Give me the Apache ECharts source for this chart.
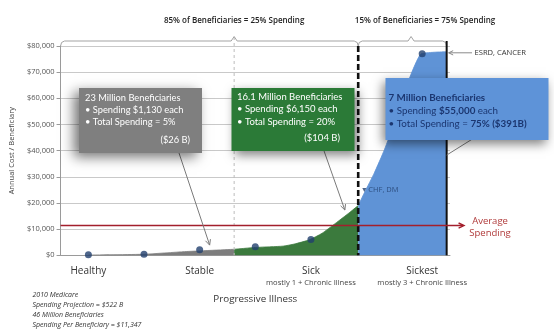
<!DOCTYPE html>
<html>
<head>
<meta charset="utf-8">
<script src="https://cdn.jsdelivr.net/npm/echarts@6/dist/echarts.min.js"></script>
<style>
  html, body { margin: 0; padding: 0; background: #fff; }
  #c { width: 554px; height: 329px; }
</style>
</head>
<body>
<div id="c"></div>
<script>
// ---- data ---------------------------------------------------------------
// Illness stages along the horizontal axis (one slot each)
const stages = ['Healthy', '', 'Stable', '', 'Sick', '', 'Sickest'];
const stageNotes = ['', '', '', '', 'mostly 1 + Chronic Illness', '', 'mostly 3 + Chronic Illness'];
// Annual cost per beneficiary marked at the middle of each stage (null = no marker)
const stageCost = [200, 400, 2100, 3300, 6000, null, 77000];

// Spending curve per group: [position on the stage scale, annual cost]
const curveStable  = [[0.5, 100], [1.5, 400], [2.23, 1400], [3.12, 2300]];
const curveSick    = [[3.12, 2300], [3.5, 3000], [4.0, 3500], [4.2, 4300], [4.47, 5900],
                      [4.7, 8400], [4.94, 12200], [5.18, 16100], [5.35, 19000]];
const curveSickest = [[5.35, 19000], [5.47, 24300], [5.64, 31500], [5.82, 40300], [6.0, 50600],
                      [6.17, 62000], [6.33, 70800], [6.48, 77000], [6.94, 77800]];

// Group boundaries on the stage scale
const splitStable = 3.12;   // 85% group: stable | sick
const splitTop15 = 5.35;    // 85% | 15%
const splitEnd = 6.94;      // end of curve
const braceCusps = [3.12, 6.3];

const averageSpending = 11347;
const yMax = 80000, yStep = 10000;

// Condition markers on the curve
const chfPoint = [5.46, 25000];
const esrdPoint = [6.94, 77400];

// Callout texts
const boxStableLines = ['23 Million Beneficiaries', '• Spending $1,130 each', '• Total Spending = 5%'];
const boxStableTotal = '($26 B)';
const boxSickLines = ['16.1 Million Beneficiaries', '• Spending $6,150 each', '• Total Spending = 20%'];
const boxSickTotal = '($104 B)';
const boxSickestLines = ['{b|7 Million Beneficiaries}', '• Spending {b|$55,000} each', '• Total Spending = {b|75% ($391B)}'];
// Points on the curve each callout points at
const calloutTargets = [[2.68, 3900], [5.11, 17300], [6.94, 38300]];

const headerLeft = '85% of Beneficiaries = 25% Spending';
const headerRight = '15% of Beneficiaries = 75% Spending';
const footLines = ['2010 Medicare', 'Spending Projection = $522 B', '46 Million Beneficiaries', 'Spending Per Beneficiary = $11,347'];

// ---- chart --------------------------------------------------------------
const FONT = '"Open Sans", sans-serif';
const BOXFONT = 'Lato, "Open Sans", sans-serif';

const chart = echarts.init(document.getElementById('c'), null, { renderer: 'canvas' });

const areaSeries = (data, color) => ({
  type: 'line', xAxisIndex: 0, yAxisIndex: 0, data: data,
  symbol: 'none', smooth: 0.15, silent: true,
  lineStyle: { width: 0.8, color: color },
  areaStyle: { color: color, opacity: 1 },
  z: 2
});

chart.setOption({
  animation: false,
  textStyle: { fontFamily: FONT },
  grid: { left: 53.3, right: 104, top: 46, bottom: 73.7 },
  xAxis: [
    { type: 'value', min: 0, max: 7, show: false },
    {
      type: 'category', data: stages, boundaryGap: true, position: 'bottom',
      axisLine: { lineStyle: { color: '#9a9a9a', width: 1 } },
      axisTick: { length: 5, lineStyle: { color: '#9a9a9a' } },
      axisLabel: {
        interval: 0, margin: 10,
        formatter: (v, i) => v ? ('{m|' + v + '}' + (stageNotes[i] ? '\n{s|' + stageNotes[i] + '}' : '')) : '',
        rich: {
          m: { fontSize: 10, lineHeight: 12, color: '#333', fontFamily: FONT },
          s: { fontSize: 7.6, lineHeight: 11, color: '#444', fontFamily: FONT }
        }
      },
      name: 'Progressive Illness', nameLocation: 'middle', nameGap: 39,
      nameTextStyle: { fontSize: 9.8, color: '#333', fontFamily: FONT }
    }
  ],
  yAxis: {
    type: 'value', min: 0, max: yMax, interval: yStep,
    axisLine: { show: true, lineStyle: { color: '#9a9a9a' } },
    axisTick: { show: true, length: 4, lineStyle: { color: '#9a9a9a' } },
    axisLabel: {
      fontSize: 7.5, color: '#555', margin: 6,
      formatter: v => '$' + v.toLocaleString('en-US')
    },
    splitLine: { lineStyle: { color: '#c9c9c9', width: 1 } },
    name: 'Annual Cost / Beneficiary', nameLocation: 'middle', nameGap: 40,
    nameTextStyle: { fontSize: 7.5, color: '#444' }
  },
  series: [
    areaSeries(curveStable, '#7d7d7d'),
    areaSeries(curveSick, '#3b7a3d'),
    areaSeries(curveSickest, '#5f93d6'),
    {
      type: 'scatter', xAxisIndex: 0, yAxisIndex: 0, z: 5,
      data: stageCost.map((v, i) => [i + 0.5, v]).filter(d => d[1] !== null),
      symbolSize: 7, itemStyle: { color: '#22406e' }
    },
    {
      type: 'scatter', xAxisIndex: 0, yAxisIndex: 0, z: 5,
      data: [chfPoint], symbol: 'triangle', symbolRotate: 180, symbolSize: 4,
      itemStyle: { color: '#22406e' },
      label: { show: true, position: 'right', distance: 2, formatter: 'CHF, DM',
               fontSize: 7.5, color: '#22406e', fontFamily: FONT }
    }
  ]
});

// ---- annotations placed from axis coordinates -----------------------------
const px = (p) => chart.convertToPixel({ seriesIndex: 0 }, p);
const yBase = px([0, 0])[1];
const yTop = px([0, yMax])[1];
const braceY = yTop - 5;

function arrowHead(tip, from, len, color, width) {
  const a = Math.atan2(tip[1] - from[1], tip[0] - from[0]);
  const s = 0.45;
  return {
    type: 'polyline', z: 60,
    shape: { points: [
      [tip[0] - len * Math.cos(a - s), tip[1] - len * Math.sin(a - s)],
      tip,
      [tip[0] - len * Math.cos(a + s), tip[1] - len * Math.sin(a + s)]
    ] },
    style: { stroke: color, lineWidth: width || 1, fill: null }
  };
}
const line = (a, b, style, z) => ({ type: 'line', z: z || 50, shape: { x1: a[0], y1: a[1], x2: b[0], y2: b[1] }, style: style });
const text = (x, y, str, opts) => ({
  type: 'text', z: 120,
  style: Object.assign({ x: x, y: y, text: str, fill: '#333', fontSize: 8, fontFamily: FONT,
                         align: 'left', verticalAlign: 'middle' }, opts || {})
});

const xStable = px([splitStable, 0])[0];
const x15 = px([splitTop15, 0])[0];
const xEnd = px([splitEnd, 0])[0];
const xLeft = px([0, 0])[0];
const cuspL = px([braceCusps[0], 0])[0];
const cuspR = px([braceCusps[1], 0])[0];
const g = [];

// group dividers
g.push(line([xStable, braceY - 4], [xStable, yBase], { stroke: '#bdbdbd', lineWidth: 1, lineDash: [3, 3] }, 3));
g.push(line([x15, yTop], [x15, yBase], { stroke: '#111', lineWidth: 2.6, lineDash: [6, 3] }, 40));
g.push(line([xEnd, braceY], [xEnd, yBase], { stroke: '#111', lineWidth: 2 }, 40));

// braces over the two groups
function brace(x0, x1, cx) {
  return {
    type: 'polyline', z: 30,
    shape: { points: [[x0, braceY + 5], [x0 + 1, braceY + 1.5], [x0 + 4, braceY], [cx - 3, braceY],
                      [cx, braceY - 4.5], [cx + 3, braceY], [x1 - 4, braceY], [x1 - 1, braceY + 1.5], [x1, braceY + 5]] },
    style: { stroke: '#a3a3a3', lineWidth: 1, fill: null }
  };
}
g.push(brace(xLeft, x15, cuspL));
g.push(brace(x15, xEnd, cuspR));
g.push(text(cuspL, 20.5, headerLeft, { align: 'center', fontSize: 8, fontWeight: 600, fill: '#222' }));
g.push(text(425, 20.5, headerRight, { align: 'center', fontSize: 8, fontWeight: 600, fill: '#222' }));

// average spending line
const yAvg = px([0, averageSpending])[1];
g.push(line([xLeft, yAvg], [463, yAvg], { stroke: '#a31f2c', lineWidth: 1.5 }, 45));
g.push(arrowHead([464, yAvg], [450, yAvg], 6, '#a31f2c', 1.4));
g.push(text(490, 221.5, 'Average', { align: 'center', fontSize: 9.5, fill: '#b03a3a' }));
g.push(text(490, 233.5, 'Spending', { align: 'center', fontSize: 9.5, fill: '#b03a3a' }));

// ESRD marker
const esrd = px(esrdPoint);
g.push(line([472, esrd[1]], [esrd[0] + 2, esrd[1]], { stroke: '#8a8a8a', lineWidth: 1 }));
g.push(arrowHead([esrd[0] + 2, esrd[1]], [472, esrd[1]], 5, '#8a8a8a', 1));
g.push(text(474.5, esrd[1], 'ESRD, CANCER', { fontSize: 7.6, fill: '#333' }));

// callout boxes
function box(x, y, w, h, fill, shadow) {
  return {
    type: 'rect', z: 100, shape: { x: x, y: y, width: w, height: h },
    style: { fill: fill, shadowBlur: shadow.blur, shadowColor: shadow.color,
             shadowOffsetX: shadow.dx, shadowOffsetY: shadow.dy }
  };
}
function connector(from, target, withHead) {
  const t = px(target);
  const items = [line(from, t, { stroke: '#7a7a7a', lineWidth: 1 }, 95)];
  if (withHead) items.push(arrowHead(t, from, 6, '#7a7a7a', 1));
  return items;
}

g.push(...connector([178, 150], calloutTargets[0], true));
g.push(...connector([323, 148], calloutTargets[1], true));
g.push(...connector([474, 138], calloutTargets[2], false));

g.push(box(79, 88, 123, 65, '#7f7f7f', { blur: 12, color: 'rgba(0,0,0,0.55)', dx: -5, dy: 4 }));
boxStableLines.forEach((s, i) => g.push(text(85, 97.5 + i * 12.2, s, { fontSize: 9.3, fontFamily: BOXFONT, fill: '#fff' })));
g.push(text(190, 140, boxStableTotal, { fontSize: 9.3, fontFamily: BOXFONT, fill: '#fff', align: 'right' }));

g.push(box(231.5, 88, 123, 63, '#2b7a37', { blur: 10, color: 'rgba(0,0,0,0.5)', dx: 3, dy: 4 }));
boxSickLines.forEach((s, i) => g.push(text(237, 97 + i * 12.3, s, { fontSize: 9.5, fontFamily: BOXFONT, fill: '#fff' })));
g.push(text(340, 137.5, boxSickTotal, { fontSize: 9.5, fontFamily: BOXFONT, fill: '#fff', align: 'right' }));

g.push(box(385.5, 78, 163, 62, '#5e93d8', { blur: 10, color: 'rgba(0,0,0,0.5)', dx: -3, dy: 4 }));
const richB = { b: { fontWeight: 'bold', fontSize: 9.8, fontFamily: BOXFONT, fill: '#1b3670', lineHeight: 13 } };
boxSickestLines.forEach((s, i) => g.push(text(388.5, 97.5 + i * 13, s,
  { fontSize: 9.8, fontFamily: BOXFONT, fill: '#1b3670', rich: richB })));

// footnote
footLines.forEach((s, i) => g.push(text(32.5, 295 + i * 10, s, { fontSize: 7, fontStyle: 'italic', fill: '#333' })));

chart.setOption({ graphic: { elements: g } });
</script>
</body>
</html>
